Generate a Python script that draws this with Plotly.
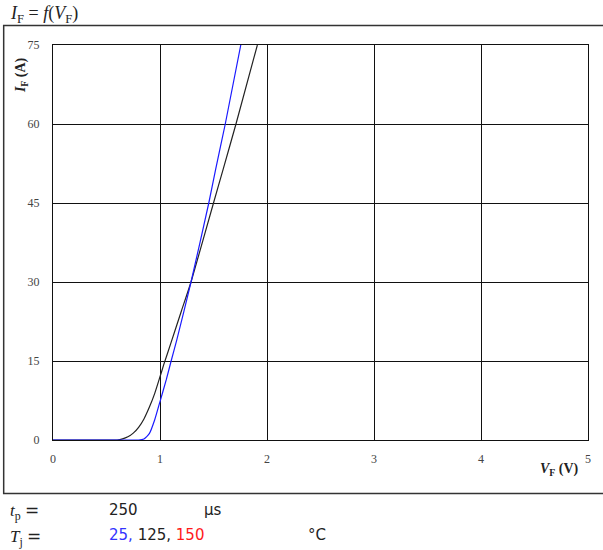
import plotly.graph_objects as go

# Data (V_F in V, I_F in A)
vf_25 = [0.0, 0.70, 0.80, 0.85, 0.90, 0.95, 1.00, 1.058, 1.104, 1.157, 1.29, 1.456, 1.52, 1.61, 1.755]
if_25 = [0.0, 0.0, 0.0, 0.2, 1.2, 3.8, 7.3, 11.4, 15.0, 19.0, 30.0, 45.0, 51.4, 60.0, 75.0]

vf_125 = [0.0, 0.50, 0.60, 0.65, 0.70, 0.75, 0.80, 0.85, 0.90, 0.95, 1.00, 1.035, 1.10, 1.20, 1.29, 1.50, 1.59, 1.71, 1.91]
if_125 = [0.0, 0.0, 0.0, 0.2, 0.6, 1.3, 2.4, 4.0, 6.2, 8.8, 12.0, 14.3, 18.3, 24.5, 30.0, 45.0, 51.4, 60.0, 75.0]

x_ticks = [0, 1, 2, 3, 4, 5]
y_ticks = [0, 15, 30, 45, 60, 75]

W, H = 603, 550
L, R, T, B = 53, 590, 45, 440


def px(x):
    return (x - L) / (R - L)


def py(y):
    return (B - y) / (B - T)


fig = go.Figure()
fig.add_trace(go.Scatter(x=vf_125, y=if_125, mode="lines",
                         line=dict(color="#222222", width=1.2, shape="spline", smoothing=0.5),
                         showlegend=False, hoverinfo="skip"))
fig.add_trace(go.Scatter(x=vf_25, y=if_25, mode="lines",
                         line=dict(color="#1a1aff", width=1.2, shape="spline", smoothing=0.5),
                         showlegend=False, hoverinfo="skip"))

tickfont = dict(family="Liberation Serif", size=12, color="#444444")
fig.update_xaxes(range=[0, 5], tickvals=x_ticks, showgrid=True, gridcolor="#111111", gridwidth=1,
                 showline=True, linecolor="#111111", linewidth=1, mirror=True, zeroline=False,
                 tickfont=tickfont, ticks="", ticklabelstandoff=8, fixedrange=True)
fig.update_yaxes(range=[0, 75], tickvals=y_ticks, showgrid=True, gridcolor="#111111", gridwidth=1,
                 showline=True, linecolor="#111111", linewidth=1, mirror=True, zeroline=False,
                 tickfont=tickfont, ticks="", ticklabelstandoff=10, fixedrange=True)

# Outer frame
fig.add_shape(type="rect", xref="paper", yref="paper",
              x0=px(3.5), x1=px(640), y0=py(493.5), y1=py(25.5),
              line=dict(color="#333333", width=1.5), fillcolor="rgba(0,0,0,0)", layer="below")

ann = []
serif = "Liberation Serif"
sans = "DejaVu Sans"
# Title
ann.append(dict(x=px(8), y=py(14), xref="paper", yref="paper", xanchor="left", yanchor="middle",
                text="<i>I</i><sub>F</sub> = <i>f</i>(<i>V</i><sub>F</sub>)",
                font=dict(family=serif, size=18, color="#222222"), showarrow=False))
# Axis titles
ann.append(dict(x=px(22), y=py(75), xref="paper", yref="paper", xanchor="center", yanchor="middle",
                text="<b><i>I</i><sub>F</sub> (A)</b>", textangle=-90,
                font=dict(family=serif, size=14, color="#222222"), showarrow=False))
ann.append(dict(x=px(561), y=py(469), xref="paper", yref="paper", xanchor="center", yanchor="middle",
                text="<b><i>V</i><sub>F</sub> (V)</b>",
                font=dict(family=serif, size=14, color="#222222"), showarrow=False))
# Bottom conditions
ann.append(dict(x=px(8), y=py(511), xref="paper", yref="paper", xanchor="left", yanchor="middle",
                text="<i>t</i><sub>p</sub> <span style='font-family:DejaVu Sans'>=</span>",
                font=dict(family=serif, size=17, color="#222222"), showarrow=False))
ann.append(dict(x=px(107), y=py(510), xref="paper", yref="paper", xanchor="left", yanchor="middle",
                text="250", font=dict(family=sans, size=15, color="#222222"), showarrow=False))
ann.append(dict(x=px(203), y=py(510), xref="paper", yref="paper", xanchor="left", yanchor="middle",
                text="µs", font=dict(family=sans, size=15, color="#222222"), showarrow=False))
ann.append(dict(x=px(8), y=py(537), xref="paper", yref="paper", xanchor="left", yanchor="middle",
                text="<i>T</i><sub>j</sub> <span style='font-family:DejaVu Sans'>=</span>",
                font=dict(family=serif, size=17, color="#222222"), showarrow=False))
ann.append(dict(x=px(107), y=py(535), xref="paper", yref="paper", xanchor="left", yanchor="middle",
                text="<span style='color:#3333ff'>25,</span> 125, <span style='color:#ff1a1a'>150</span>",
                font=dict(family=sans, size=15, color="#222222"), showarrow=False))
ann.append(dict(x=px(307), y=py(535), xref="paper", yref="paper", xanchor="left", yanchor="middle",
                text="°C", font=dict(family=sans, size=15, color="#222222"), showarrow=False))

fig.update_layout(width=W, height=H, margin=dict(l=L, r=W - R, t=T, b=H - B),
                  paper_bgcolor="white", plot_bgcolor="white", annotations=ann,
                  showlegend=False)

fig.write_html("out.html", config=dict(displayModeBar=False))
